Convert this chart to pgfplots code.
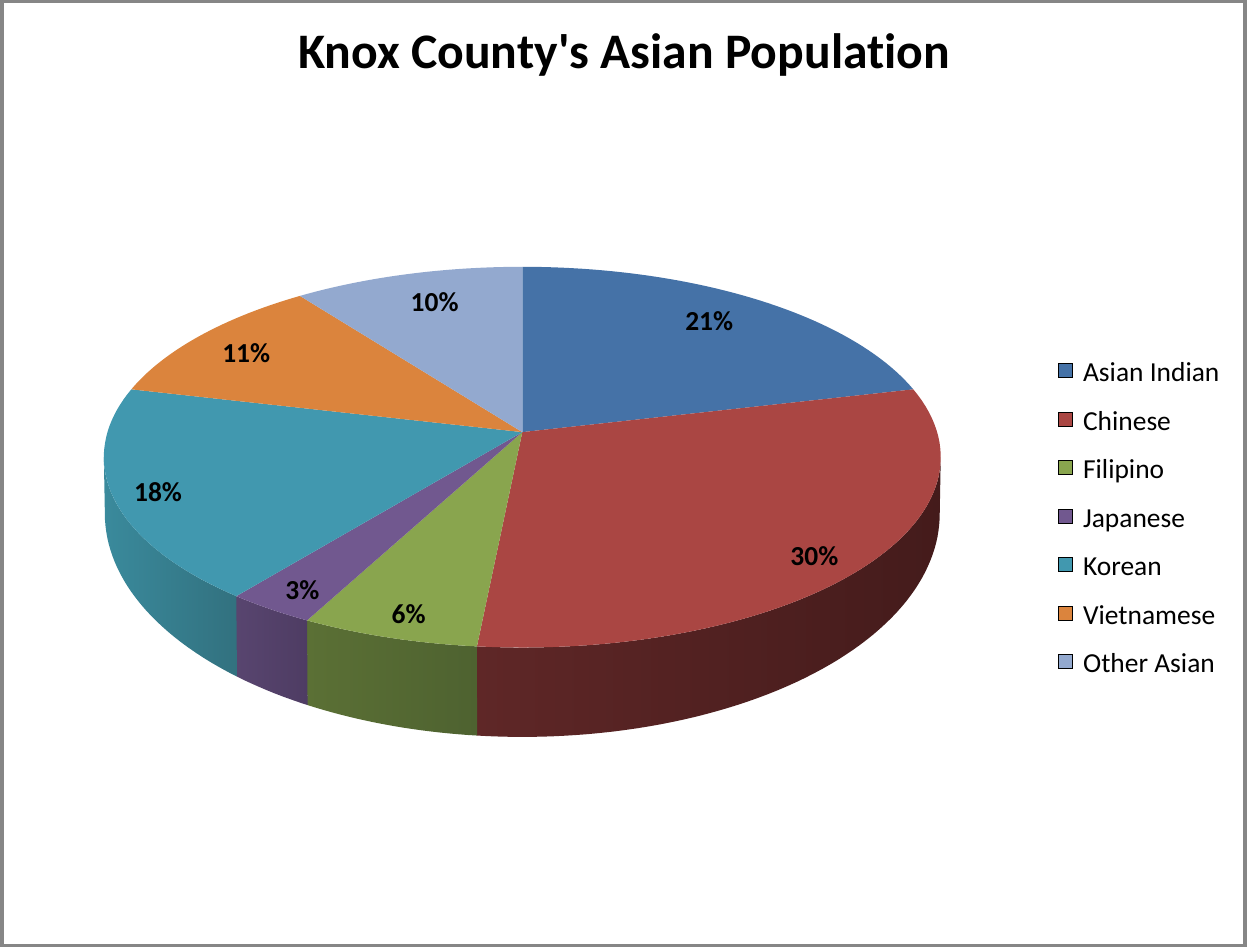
\documentclass[border=0pt]{standalone}
\usepackage{pgfplots}
\pgfplotsset{compat=1.18}
\usepackage{fontspec}
\setmainfont{Carlito}[Ligatures={TeXOff,NoCommon}]

\definecolor{cAI}{HTML}{4572A7}
\definecolor{cCH}{HTML}{AA4643}
\definecolor{cFI}{HTML}{89A54E}
\definecolor{cJA}{HTML}{71588F}
\definecolor{cKO}{HTML}{4198AF}
\definecolor{cVI}{HTML}{DB843D}
\definecolor{cOA}{HTML}{93A9CF}
\definecolor{sCHa}{HTML}{5F2727}
\definecolor{sCHb}{HTML}{441B1B}
\definecolor{sFIa}{HTML}{5B7035}
\definecolor{sFIb}{HTML}{4E6230}
\definecolor{sJAa}{HTML}{58456F}
\definecolor{sJAb}{HTML}{4E3C63}
\definecolor{sKOa}{HTML}{3A8A9C}
\definecolor{sKOb}{HTML}{32717F}
\definecolor{frame}{HTML}{868686}

% data: percentages of Knox County's Asian population
\def\vAI{21}\def\vCH{30}\def\vFI{6}\def\vJA{3}\def\vKO{18}\def\vVI{11}\def\vOA{10}
\pgfmathsetmacro\tot{\vAI+\vCH+\vFI+\vJA+\vKO+\vVI+\vOA}
\pgfmathsetmacro\aA{90}
\pgfmathsetmacro\aB{\aA-360*\vAI/\tot}
\pgfmathsetmacro\aC{\aB-360*\vCH/\tot}
\pgfmathsetmacro\aD{\aC-360*\vFI/\tot}
\pgfmathsetmacro\aE{\aD-360*\vJA/\tot}
\pgfmathsetmacro\aF{\aE-360*\vKO/\tot}
\pgfmathsetmacro\aG{\aF-360*\vVI/\tot}
\pgfmathsetmacro\aH{\aG-360*\vOA/\tot}

% perspective projection of the pie's top and bottom rims
\pgfmathdeclarefunction{pf}{1}{\pgfmathparse{1/(1+0.1316*sin(#1))}}
\pgfmathdeclarefunction{tx}{1}{\pgfmathparse{523.5+414*cos(#1)*pf(#1)}}
\pgfmathdeclarefunction{ty}{1}{\pgfmathparse{433-186.7*sin(#1)*pf(#1)}}
\pgfmathdeclarefunction{bx}{1}{\pgfmathparse{523.5+413*cos(#1)*pf(#1)}}
\pgfmathdeclarefunction{by}{1}{\pgfmathparse{485-219*sin(#1)*pf(#1)}}

\begin{document}
\begin{tikzpicture}
\begin{axis}[
  scale only axis, width=623.5pt, height=474pt,
  xmin=0, xmax=1247, ymin=0, ymax=948, y dir=reverse,
  hide axis, clip=false,
  legend cell align=left,
  legend style={at={(0.8484,0.6163)}, anchor=north west, draw=none, fill=none,
    inner sep=0pt, row sep=12pt,
    font=\fontsize{13.7}{16}\selectfont,
    nodes={inner sep=0pt, text height=9pt, text depth=3pt},
    /tikz/every odd column/.append style={column sep=5pt}},
  legend image code/.code={\fill[#1] (0pt,-1pt) rectangle (7pt,6pt);},
]
% side walls
\shade[left color=sCHa, right color=sCHb] plot[domain=-7.56:\aC, samples=60, variable=\t] ({tx(\t)},{ty(\t)}) -- plot[domain=\aC:-7.56, samples=60, variable=\t] ({bx(\t)},{by(\t)}) -- cycle;
\shade[left color=sFIa, right color=sFIb] plot[domain=\aC:\aD, samples=20, variable=\t] ({tx(\t)},{ty(\t)}) -- plot[domain=\aD:\aC, samples=20, variable=\t] ({bx(\t)},{by(\t)}) -- cycle;
\shade[left color=sJAa, right color=sJAb] plot[domain=\aD:\aE, samples=10, variable=\t] ({tx(\t)},{ty(\t)}) -- plot[domain=\aE:\aD, samples=10, variable=\t] ({bx(\t)},{by(\t)}) -- cycle;
\shade[left color=sKOa, right color=sKOb] plot[domain=\aE:-172.44, samples=30, variable=\t] ({tx(\t)},{ty(\t)}) -- plot[domain=-172.44:\aE, samples=30, variable=\t] ({bx(\t)},{by(\t)}) -- cycle;
% top faces
\fill[cAI] (523.5,433) -- plot[domain=\aA:\aB, samples=50, variable=\t] ({tx(\t)},{ty(\t)}) -- cycle;
\fill[cCH] (523.5,433) -- plot[domain=\aB:\aC, samples=60, variable=\t] ({tx(\t)},{ty(\t)}) -- cycle;
\fill[cFI] (523.5,433) -- plot[domain=\aC:\aD, samples=20, variable=\t] ({tx(\t)},{ty(\t)}) -- cycle;
\fill[cJA] (523.5,433) -- plot[domain=\aD:\aE, samples=10, variable=\t] ({tx(\t)},{ty(\t)}) -- cycle;
\fill[cKO] (523.5,433) -- plot[domain=\aE:\aF, samples=40, variable=\t] ({tx(\t)},{ty(\t)}) -- cycle;
\fill[cVI] (523.5,433) -- plot[domain=\aF:\aG, samples=30, variable=\t] ({tx(\t)},{ty(\t)}) -- cycle;
\fill[cOA] (523.5,433) -- plot[domain=\aG:\aH, samples=30, variable=\t] ({tx(\t)},{ty(\t)}) -- cycle;
% data labels
\begin{scope}[every node/.style={font=\fontsize{13.7}{16}\selectfont\bfseries, inner sep=0pt}]
\node at (710,322) {\vAI\%};
\node at (815,557) {\vCH\%};
\node at (410,615) {\vFI\%};
\node at (304,591) {\vJA\%};
\node at (160,493) {\vKO\%};
\node at (248,354) {\vVI\%};
\node at (436,303) {\vOA\%};
\end{scope}
% title
\node[anchor=base, font=\fontsize{24.8}{30}\selectfont\bfseries] at (625,70) {Knox County's Asian Population};
% frame
\draw[frame, line width=1.75pt] (4,3.5) rectangle (1245,945.5);
% legend
\addlegendimage{fill=cAI}\addlegendentry{Asian Indian}
\addlegendimage{fill=cCH}\addlegendentry{Chinese}
\addlegendimage{fill=cFI}\addlegendentry{Filipino}
\addlegendimage{fill=cJA}\addlegendentry{Japanese}
\addlegendimage{fill=cKO}\addlegendentry{Korean}
\addlegendimage{fill=cVI}\addlegendentry{Vietnamese}
\addlegendimage{fill=cOA}\addlegendentry{Other Asian}
\end{axis}
\end{tikzpicture}
\end{document}
